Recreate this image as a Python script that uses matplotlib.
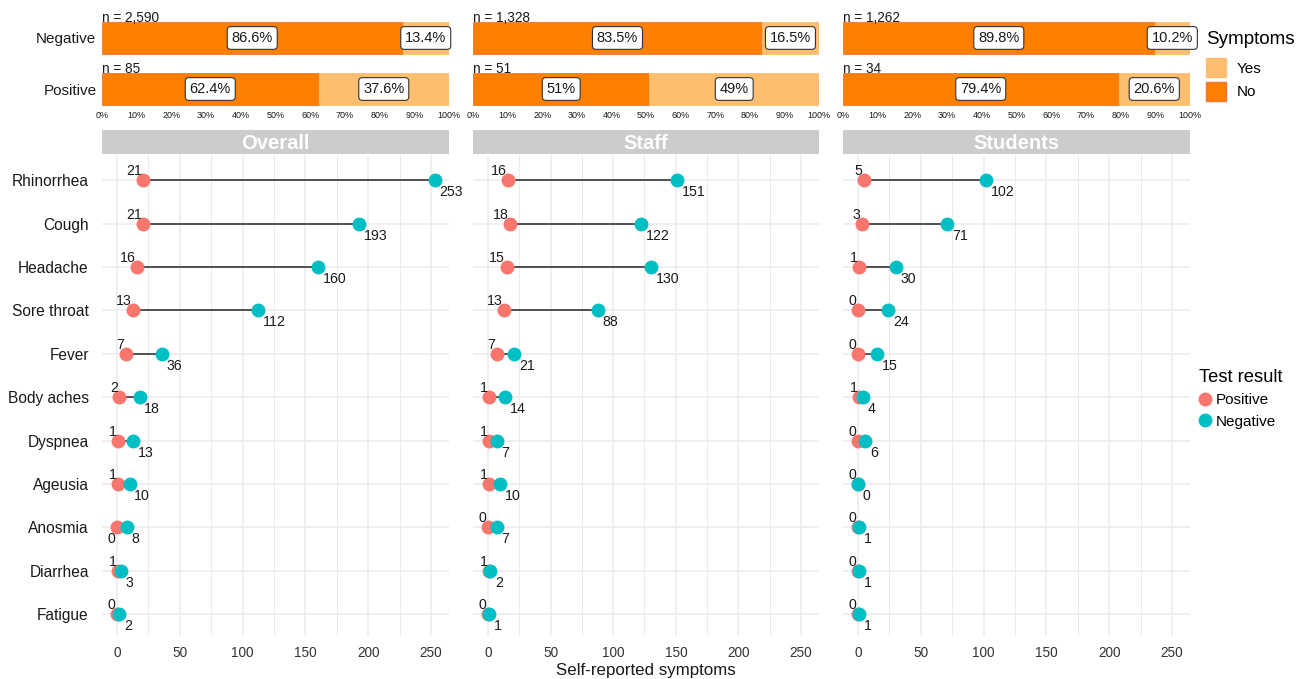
import matplotlib.pyplot as plt
from matplotlib.lines import Line2D
from matplotlib.patches import Patch

plt.rcParams['font.family'] = ['Liberation Sans', 'DejaVu Sans']

W, H = 1308, 679

groups = ['Overall', 'Staff', 'Students']
results = ['Negative', 'Positive']

# share of people with / without symptoms, per test result (Negative, Positive)
no_pct = {'Overall': [86.6, 62.4], 'Staff': [83.5, 51], 'Students': [89.8, 79.4]}
yes_pct = {'Overall': [13.4, 37.6], 'Staff': [16.5, 49], 'Students': [10.2, 20.6]}
n_tested = {'Overall': [2590, 85], 'Staff': [1328, 51], 'Students': [1262, 34]}

symptoms = ['Rhinorrhea', 'Cough', 'Headache', 'Sore throat', 'Fever',
            'Body aches', 'Dyspnea', 'Ageusia', 'Anosmia', 'Diarrhea', 'Fatigue']
pos_counts = {
    'Overall': [21, 21, 16, 13, 7, 2, 1, 1, 0, 1, 0],
    'Staff': [16, 18, 15, 13, 7, 1, 1, 1, 0, 1, 0],
    'Students': [5, 3, 1, 0, 0, 1, 0, 0, 0, 0, 0],
}
neg_counts = {
    'Overall': [253, 193, 160, 112, 36, 18, 13, 10, 8, 3, 2],
    'Staff': [151, 122, 130, 88, 21, 14, 7, 10, 7, 2, 1],
    'Students': [102, 71, 30, 24, 15, 4, 6, 0, 1, 1, 1],
}
# positive labels pushed below the point to avoid overlap
below = {('Overall', 'Anosmia')}

COL_NO, COL_YES = '#FF7F00', '#FDBF6F'
COL_POS, COL_NEG = '#F8766D', '#00BFC4'
GRID = '#EBEBEB'
TXT = '#1A1A1A'


def rect(left, top, right, bottom):
    return [left / W, 1 - bottom / H, (right - left) / W, (bottom - top) / H]


fig = plt.figure(figsize=(W / 100, H / 100), dpi=100)
cols = [(102, 449), (473, 819), (843, 1190)]

for k, (g, (x0, x1)) in enumerate(zip(groups, cols)):
    # stacked bars: symptoms by test result
    ax = fig.add_axes(rect(x0, 14, x1, 106))
    ys = [1, 0]
    bh = 0.63
    for y, no, yes, n in zip(ys, no_pct[g], yes_pct[g], n_tested[g]):
        ax.barh(y, no, height=bh, color=COL_NO, edgecolor='#F4743B', lw=0.6)
        ax.barh(y, yes, left=no, height=bh, color=COL_YES, edgecolor='#FDBF6F', lw=0.6)
        box = dict(boxstyle='round,pad=0.3,rounding_size=0.25', fc='white', ec='#333333', lw=0.8)
        ax.text(no / 2, y, f'{no:g}%', ha='center', va='center', fontsize=10.5, color=TXT, bbox=box)
        ax.text(no + yes / 2, y, f'{yes:g}%', ha='center', va='center', fontsize=10.5, color=TXT, bbox=box)
        ax.text(0, y + bh / 2 + 0.08, f'n = {n:,}', ha='left', va='center', fontsize=9.8, color=TXT)
    ax.set_xlim(0, 100)
    ax.set_ylim(-0.333, 1.47)
    ax.set_xticks(range(0, 101, 10))
    ax.set_xticklabels([f'{v}%' for v in range(0, 101, 10)], fontsize=6.5, color=TXT)
    ax.set_yticks(ys)
    if k == 0:
        ax.set_yticklabels(results, fontsize=11, color=TXT)
    else:
        ax.set_yticklabels([])
    ax.tick_params(length=0, pad=3.5)
    ax.tick_params(axis='y', pad=4)
    for s in ax.spines.values():
        s.set_visible(False)

    # facet strip
    sax = fig.add_axes(rect(x0, 130, x1, 154))
    sax.set_facecolor('#CCCCCC')
    sax.set_xticks([])
    sax.set_yticks([])
    for s in sax.spines.values():
        s.set_visible(False)
    sax.text(0.5, 0.45, g, transform=sax.transAxes, ha='center', va='center',
             fontsize=14.5, fontweight='bold', color='white')

    # dumbbells: positive vs negative counts per symptom
    dx = fig.add_axes(rect(x0, 155, x1, 636))
    rows = list(range(len(symptoms)))
    for r in rows:
        dx.axhline(r, color=GRID, lw=1.1, zorder=0)
    for v in range(0, 251, 50):
        dx.axvline(v, color=GRID, lw=1.1, zorder=0)
    for v in range(25, 250, 50):
        dx.axvline(v, color=GRID, lw=0.7, zorder=0)
    pos, neg = pos_counts[g], neg_counts[g]
    dx.hlines(rows, pos, neg, color='#262626', lw=1.1, zorder=1)
    dx.plot(pos, rows, 'o', color=COL_POS, ms=9, mec=COL_POS, zorder=2)
    dx.plot(neg, rows, 'o', color=COL_NEG, ms=9, mec=COL_NEG, zorder=3)
    for r, s, p, n in zip(rows, symptoms, pos, neg):
        if (g, s) in below:
            dx.annotate(str(p), (p, r), xytext=(-1.5, -11), textcoords='offset points',
                        ha='right', va='baseline', fontsize=10.2, color=TXT)
        else:
            dx.annotate(str(p), (p, r), xytext=(-1.2, 3.6), textcoords='offset points',
                        ha='right', va='baseline', fontsize=10.2, color=TXT)
        dx.annotate(str(n), (n, r), xytext=(3.4, -11.5), textcoords='offset points',
                    ha='left', va='baseline', fontsize=10.2, color=TXT)
    dx.set_xlim(-11.9, 264.3)
    dx.set_ylim(10.5, -0.58)
    dx.set_xticks(range(0, 251, 50))
    dx.set_xticklabels([str(v) for v in range(0, 251, 50)], fontsize=9.8, color='#333333')
    dx.set_yticks(rows)
    if k == 0:
        dx.set_yticklabels(symptoms, fontsize=11.2, color=TXT)
    else:
        dx.set_yticklabels([])
    dx.tick_params(length=0, pad=7.5)
    dx.tick_params(axis='y', pad=9.5)
    for s in dx.spines.values():
        s.set_visible(False)

fig.text(646 / W, 1 - 670 / H, 'Self-reported symptoms', ha='center', va='center',
         fontsize=12.2, color=TXT)

sym_handles = [Patch(fc=COL_YES, ec=COL_YES, label='Yes'),
               Patch(fc=COL_NO, ec='#F4743B', label='No')]
leg1 = fig.legend(handles=sym_handles, title='Symptoms', loc='upper left',
                  bbox_to_anchor=(1206 / W, 1 - 31 / H), frameon=False,
                  fontsize=11, title_fontsize=13.6, handlelength=1.3, handleheight=1.6,
                  handletextpad=0.7, labelspacing=0.28, borderaxespad=0, borderpad=0)
leg1._legend_box.align = 'left'
leg1._legend_box.sep = 7

res_handles = [Line2D([], [], marker='o', ls='', color=COL_POS, ms=9, label='Positive'),
               Line2D([], [], marker='o', ls='', color=COL_NEG, ms=9, label='Negative')]
leg2 = fig.legend(handles=res_handles, title='Test result', loc='upper left',
                  bbox_to_anchor=(1199 / W, 1 - 369 / H), frameon=False,
                  fontsize=11, title_fontsize=13.2, handlelength=0.8,
                  handletextpad=0.3, labelspacing=0.5, borderaxespad=0, borderpad=0)
leg2._legend_box.align = 'left'
leg2._legend_box.sep = 5

fig.savefig('out.png', dpi=100)
